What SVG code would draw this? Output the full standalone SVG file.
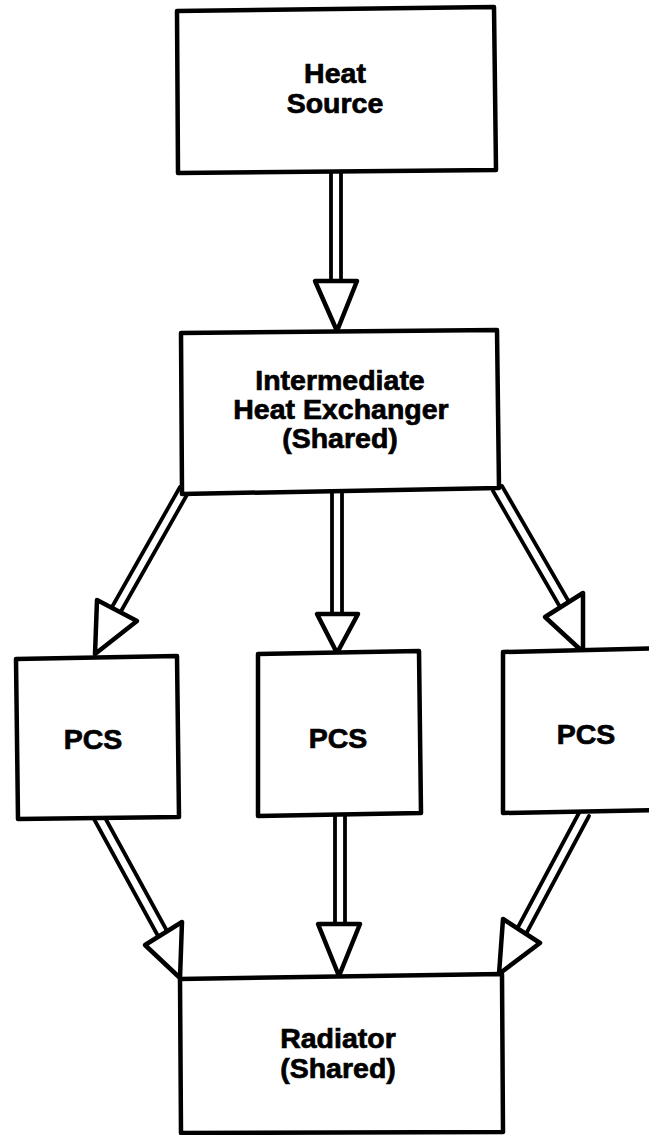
<svg xmlns="http://www.w3.org/2000/svg" width="649" height="1135" viewBox="0 0 649 1135">
<style>
.box{fill:#fff;stroke:#000;stroke-width:4.5;stroke-linejoin:round}
.shaft{stroke:#000;stroke-width:3.8;fill:none;stroke-linecap:round}
.head{fill:#fff;stroke:#000;stroke-width:4.5;stroke-linejoin:round}
.lbl{font-family:"Liberation Sans",Arial,Helvetica,sans-serif;font-weight:bold;font-size:28.5px;fill:#000;stroke:#000;stroke-width:0.7;text-anchor:middle}
</style>
<rect width="649" height="1135" fill="#fff"/>
<g id="connectors">
  <g id="a-hs-ihx">
    <line class="shaft" x1="331" y1="172" x2="331" y2="283"/>
    <line class="shaft" x1="341" y1="172" x2="341" y2="283"/>
    <polygon class="head" points="315,281 357,281 337,331"/>
  </g>
  <g id="a-ihx-pcs1">
    <line class="shaft" x1="188" y1="493" x2="120" y2="613"/>
    <line class="shaft" x1="180" y1="487" x2="112" y2="607"/>
    <polygon class="head" points="97,600 137,621 95,654"/>
  </g>
  <g id="a-ihx-pcs2">
    <line class="shaft" x1="332" y1="492" x2="332" y2="616"/>
    <line class="shaft" x1="342" y1="492" x2="342" y2="616"/>
    <polygon class="head" points="317,614 358,614 337,653"/>
  </g>
  <g id="a-ihx-pcs3">
    <line class="shaft" x1="493" y1="491" x2="560" y2="607"/>
    <line class="shaft" x1="502" y1="486" x2="569" y2="602"/>
    <polygon class="head" points="545,617 583,593 583,652"/>
  </g>
  <g id="a-pcs1-rad">
    <line class="shaft" x1="94" y1="819" x2="158" y2="936"/>
    <line class="shaft" x1="103" y1="814" x2="167" y2="931"/>
    <polygon class="head" points="145,945 182,922 180,978"/>
  </g>
  <g id="a-pcs2-rad">
    <line class="shaft" x1="335" y1="815" x2="335" y2="926"/>
    <line class="shaft" x1="345" y1="815" x2="345" y2="926"/>
    <polygon class="head" points="318,924 360,924 339,976"/>
  </g>
  <g id="a-pcs3-rad">
    <line class="shaft" x1="580" y1="811" x2="517" y2="929"/>
    <line class="shaft" x1="589" y1="816" x2="526" y2="934"/>
    <polygon class="head" points="503,919 540,943 499,974"/>
  </g>
</g>
<g id="heat-source">
  <polygon class="box" points="177,11 494,7 496,170 178,173"/>
  <text class="lbl" x="335" y="83">Heat</text>
  <text class="lbl" x="335" y="113">Source</text>
</g>
<g id="ihx">
  <polygon class="box" points="181,333 497,330 499,488 182,494"/>
  <text class="lbl" x="340" y="390">Intermediate</text>
  <text class="lbl" x="341" y="419">Heat Exchanger</text>
  <text class="lbl" x="340" y="448">(Shared)</text>
</g>
<g id="pcs1">
  <polygon class="box" points="16,659 177,656 179,817 18,819"/>
  <text class="lbl" x="93" y="749">PCS</text>
</g>
<g id="pcs2">
  <polygon class="box" points="258,654 419,651 421,813 258,816"/>
  <text class="lbl" x="338" y="748">PCS</text>
</g>
<g id="pcs3">
  <polygon class="box" points="503,652 666,648 666,810 503,813"/>
  <text class="lbl" x="586" y="744">PCS</text>
</g>
<g id="radiator">
  <polygon class="box" points="180,979 502,974 503,1132 181,1133"/>
  <text class="lbl" x="338" y="1048">Radiator</text>
  <text class="lbl" x="338" y="1078">(Shared)</text>
</g>
</svg>
